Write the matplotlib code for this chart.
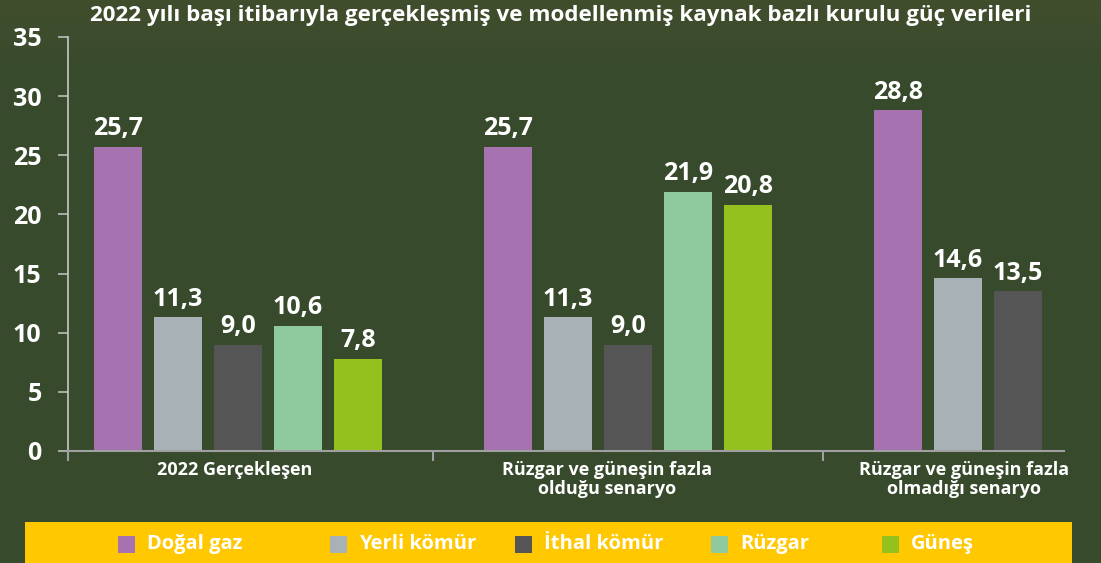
import numpy as np
import matplotlib.pyplot as plt
from matplotlib.patches import Rectangle
from matplotlib.colors import to_rgb
import matplotlib.transforms as mtransforms

plt.rcParams['font.family'] = ['Open Sans', 'DejaVu Sans']
plt.rcParams['font.weight'] = 'bold'

# data
title = '2022 yılı başı itibarıyla gerçekleşmiş ve modellenmiş kaynak bazlı kurulu güç verileri'
groups = ['2022 Gerçekleşen',
          'Rüzgar ve güneşin fazla\nolduğu senaryo',
          'Rüzgar ve güneşin fazla\nolmadığı senaryo']
series = ['Doğal gaz', 'Yerli kömür', 'İthal kömür', 'Rüzgar', 'Güneş']
dogal_gaz = [25.7, 25.7, 28.8]
yerli_komur = [11.3, 11.3, 14.6]
ithal_komur = [9.0, 9.0, 13.5]
ruzgar = [10.6, 21.9, None]
gunes = [7.8, 20.8, None]
values = [dogal_gaz, yerli_komur, ithal_komur, ruzgar, gunes]
colors = ['#a672b0', '#a7b1b6', '#555555', '#8fc99e', '#95c11f']
yticks = [0, 5, 10, 15, 20, 25, 30, 35]

# layout (in bar-slot units)
group_start = [0, 6.5, 13]
group_label_x = [1.95, 8.15, 14.1]
boundaries = [-0.83, 5.25, 11.75]
legend_x = [118, 330, 515, 711, 882]   # pixel positions of legend squares

W, H = 1101, 563
bg_color = '#374a2c'
fig = plt.figure(figsize=(W / 100, H / 100), dpi=100)
fig.patch.set_facecolor(bg_color)

# background with lighter band at top
bg = fig.add_axes([0, 0, 1, 1], zorder=0)
top = np.array(to_rgb('#414e2c'))
base = np.array(to_rgb(bg_color))
t = np.clip(np.arange(H) / 80.0, 0, 1)[:, None]
grad = top * (1 - t) + base * t
bg.imshow(grad[:, None, :], aspect='auto', extent=[0, 1, 0, 1], origin='upper')
bg.axis('off')

ax = fig.add_axes([68 / W, 112 / H, 996 / W, 414 / H], zorder=1)
ax.set_facecolor('none')

for s, (name, vals, col) in enumerate(zip(series, values, colors)):
    for g, v in enumerate(vals):
        if v is None:
            continue
        x = group_start[g] + s
        ax.bar(x, v, width=0.8, color=col, zorder=2)
        ax.annotate(f'{v:.1f}'.replace('.', ','), (x, v), xytext=(0, 4),
                    textcoords='offset points', ha='center', va='bottom',
                    color='white', fontsize=18, fontweight='bold')

ax.set_xlim(-0.83, 15.77)
ax.set_ylim(0, 35)
ax.set_yticks(yticks)
ax.set_yticklabels([str(v) for v in yticks], color='white', fontsize=18, fontweight='bold')
ax.tick_params(axis='y', length=7, width=1.2, color='#bdbdbd', pad=12)
ax.set_xticks(boundaries)
ax.set_xticklabels([])
ax.tick_params(axis='x', length=7, width=1.5, color='#a0a0a0')
for sp in ['top', 'right']:
    ax.spines[sp].set_visible(False)
ax.spines['left'].set_color('#c8c8c8')
ax.spines['left'].set_linewidth(1.2)
ax.spines['bottom'].set_color('#a0a0a0')
ax.spines['bottom'].set_linewidth(1.5)

trans = mtransforms.blended_transform_factory(ax.transData, ax.transAxes)
for gx, lab in zip(group_label_x, groups):
    ax.text(gx, -0.025, lab, transform=trans, ha='center', va='top',
            color='white', fontsize=13, fontweight='bold', linespacing=1.05)

fig.text(561 / W, 1 - 5 / H, title, ha='center', va='top', color='white',
         fontsize=16.1, fontweight='bold')

# legend band
fig.patches.append(Rectangle((25 / W, 0), 1047 / W, 41 / H, transform=fig.transFigure,
                             facecolor='#ffc800', edgecolor='none', zorder=2))
for lx, name, col in zip(legend_x, series, colors):
    fig.patches.append(Rectangle((lx / W, 10 / H), 17 / W, 17 / H, transform=fig.transFigure,
                                 facecolor=col, edgecolor='none', zorder=3))
    fig.text((lx + 29) / W, 19 / H, name, ha='left', va='center', color='white',
             fontsize=14.5, fontweight='bold', zorder=4)

fig.savefig('out.png', dpi=100, facecolor=fig.get_facecolor())
